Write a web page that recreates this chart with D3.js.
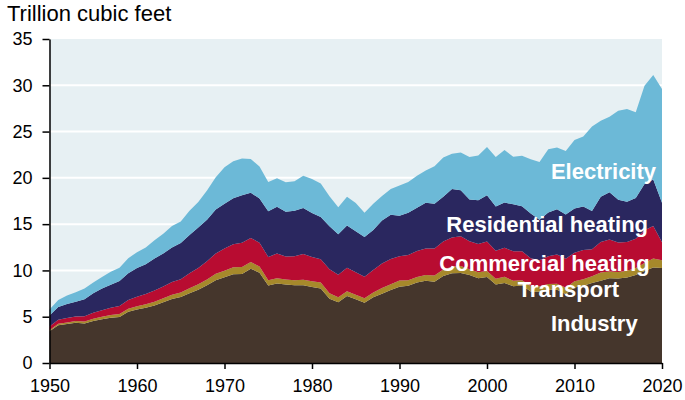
<!DOCTYPE html>
<html>
<head>
<meta charset="utf-8">
<script src="https://cdn.jsdelivr.net/npm/d3@7"></script>
<style>
  body { margin: 0; background: #ffffff; }
  svg { display: block; font-family: "Liberation Sans", Arial, sans-serif; }
  .axis path, .axis line { stroke: #000000; stroke-width: 1.5; }
  .axis text { fill: #000000; font-size: 18px; }
</style>
</head>
<body>
<div id="chart"></div>
<script>
// US natural gas consumption by end use, trillion cubic feet
var years = d3.range(1950, 2021);

var industry = [
  3.42, 4.08, 4.20, 4.35, 4.28, 4.54, 4.72, 4.90, 4.98, 5.54,
  5.78, 5.98, 6.21, 6.55, 6.91, 7.12, 7.53, 7.92, 8.40, 8.95,
  9.25, 9.59, 9.61, 10.18, 9.76, 8.37, 8.60, 8.48, 8.41, 8.39,
  8.20, 8.05, 6.93, 6.55, 7.23, 6.88, 6.50, 7.10, 7.48, 7.88,
  8.25, 8.35, 8.70, 8.88, 8.77, 9.39, 9.69, 9.72, 9.50, 9.16,
  9.30, 8.47, 8.64, 8.29, 8.37, 7.73, 7.70, 7.91, 7.92, 7.44,
  8.15, 8.35, 8.65, 8.88, 9.16, 9.14, 9.24, 9.51, 9.93, 10.31,
  10.25
];
var transport = [
  0.13, 0.15, 0.17, 0.18, 0.20, 0.25, 0.27, 0.29, 0.30, 0.32,
  0.35, 0.38, 0.41, 0.44, 0.47, 0.50, 0.55, 0.58, 0.63, 0.68,
  0.72, 0.74, 0.77, 0.73, 0.67, 0.58, 0.55, 0.53, 0.53, 0.60,
  0.64, 0.64, 0.60, 0.56, 0.53, 0.50, 0.49, 0.52, 0.61, 0.63,
  0.66, 0.60, 0.59, 0.62, 0.69, 0.70, 0.71, 0.75, 0.64, 0.65,
  0.64, 0.64, 0.67, 0.59, 0.57, 0.58, 0.58, 0.62, 0.65, 0.70,
  0.67, 0.69, 0.73, 0.89, 0.72, 0.68, 0.72, 0.75, 0.88, 0.98,
  0.85
];
var commercial = [
  0.39, 0.45, 0.48, 0.49, 0.56, 0.63, 0.72, 0.79, 0.87, 0.94,
  1.02, 1.09, 1.21, 1.27, 1.36, 1.44, 1.61, 1.76, 1.96, 2.21,
  2.40, 2.51, 2.61, 2.60, 2.56, 2.51, 2.67, 2.50, 2.60, 2.79,
  2.61, 2.52, 2.61, 2.43, 2.52, 2.43, 2.32, 2.43, 2.67, 2.72,
  2.62, 2.73, 2.80, 2.86, 2.90, 3.03, 3.16, 3.22, 3.00, 3.05,
  3.18, 3.02, 3.14, 3.18, 3.13, 3.00, 2.83, 3.01, 3.15, 3.12,
  3.10, 3.16, 2.90, 3.30, 3.47, 3.20, 3.11, 3.16, 3.52, 3.51,
  1.95
];
var residential = [
  1.20, 1.37, 1.53, 1.59, 1.84, 2.12, 2.34, 2.48, 2.71, 2.89,
  3.10, 3.21, 3.47, 3.57, 3.75, 3.90, 4.15, 4.38, 4.49, 4.73,
  4.84, 4.97, 5.13, 4.88, 4.79, 4.92, 5.05, 4.82, 4.90, 4.97,
  4.75, 4.55, 4.63, 4.38, 4.56, 4.43, 4.31, 4.32, 4.63, 4.78,
  4.39, 4.56, 4.69, 4.96, 4.85, 4.85, 5.24, 4.98, 4.52, 4.73,
  5.00, 4.77, 4.89, 5.08, 4.87, 4.83, 4.37, 4.72, 4.89, 4.78,
  4.78, 4.71, 4.15, 4.90, 5.09, 4.61, 4.35, 4.41, 5.00, 5.02,
  4.25
];
var electricity = [
  0.63, 0.76, 0.91, 1.03, 1.17, 1.15, 1.24, 1.39, 1.44, 1.63,
  1.72, 1.83, 1.97, 2.14, 2.32, 2.32, 2.61, 2.75, 3.15, 3.49,
  3.93, 3.98, 3.98, 3.66, 3.44, 3.16, 3.08, 3.19, 3.19, 3.49,
  3.68, 3.64, 3.23, 2.91, 3.11, 3.04, 2.60, 2.84, 2.64, 2.79,
  3.25, 3.32, 3.45, 3.47, 4.04, 4.24, 3.81, 4.07, 4.59, 4.82,
  5.21, 5.34, 5.67, 5.14, 5.46, 5.87, 6.22, 6.84, 6.67, 6.87,
  7.39, 7.57, 9.11, 8.19, 8.15, 9.61, 10.03, 9.27, 10.63, 11.28,
  12.30
];

var keys = ["Industry", "Transport", "Commercial heating", "Residential heating", "Electricity"];
var colors = ["#45362c", "#a6892b", "#b80c31", "#2a275f", "#6cb9d7"];
var yTicks = [0, 5, 10, 15, 20, 25, 30, 35];
var xTicks = [1950, 1960, 1970, 1980, 1990, 2000, 2010, 2020];

// label anchors in data units: [year, value]
var labels = [
  {text: "Electricity", year: 2007.3, value: 19.85},
  {text: "Residential heating", year: 1995.35, value: 14.2},
  {text: "Commercial heating", year: 1994.55, value: 9.98},
  {text: "Transport", year: 2003.5, value: 7.15},
  {text: "Industry", year: 2007.3, value: 3.45}
];

var table = years.map(function(y, i) {
  return {
    year: y,
    "Industry": industry[i],
    "Transport": transport[i],
    "Commercial heating": commercial[i],
    "Residential heating": residential[i],
    "Electricity": electricity[i]
  };
});

var width = 685, height = 400;
var margin = {top: 39, right: 23, bottom: 37, left: 49.5};

var svg = d3.select("#chart").append("svg")
  .attr("width", width)
  .attr("height", height);

var x = d3.scaleLinear()
  .domain([1950, 2020])
  .range([margin.left, width - margin.right]);
var y = d3.scaleLinear()
  .domain([0, 35])
  .range([height - margin.bottom, margin.top]);

var color = d3.scaleOrdinal().domain(keys).range(colors);

// plot background
svg.append("rect")
  .attr("x", x(1950))
  .attr("y", y(35))
  .attr("width", x(2020) - x(1950))
  .attr("height", y(0) - y(35))
  .style("fill", "#e7f0f3");

// gridlines
svg.append("g")
  .selectAll("line")
  .data(yTicks.filter(function(d) { return d > 0 && d < 35; }))
  .enter().append("line")
  .attr("x1", x(1950))
  .attr("x2", x(2020))
  .attr("y1", function(d) { return y(d); })
  .attr("y2", function(d) { return y(d); })
  .style("stroke", "#ffffff")
  .style("stroke-width", 2);

var series = d3.stack().keys(keys)(table);

var area = d3.area()
  .x(function(d) { return x(d.data.year); })
  .y0(function(d) { return y(d[0]); })
  .y1(function(d) { return y(d[1]); });

svg.append("g")
  .selectAll("path")
  .data(series)
  .enter().append("path")
  .attr("d", area)
  .style("fill", function(d) { return color(d.key); });

// axes
svg.append("g")
  .attr("class", "axis")
  .attr("transform", "translate(" + x(1950) + ",0)")
  .call(d3.axisLeft(y).tickValues(yTicks).tickSize(7).tickPadding(10).tickSizeOuter(0));

svg.append("g")
  .attr("class", "axis")
  .attr("transform", "translate(0," + y(0) + ")")
  .call(d3.axisBottom(x).tickValues(xTicks).tickFormat(d3.format("d")).tickSize(6).tickPadding(10).tickSizeOuter(0));

// series labels
svg.append("g")
  .selectAll("text")
  .data(labels)
  .enter().append("text")
  .attr("x", function(d) { return x(d.year); })
  .attr("y", function(d) { return y(d.value); })
  .style("fill", "#ffffff")
  .style("font-size", "22px")
  .style("font-weight", "bold")
  .text(function(d) { return d.text; });

// unit title
svg.append("text")
  .attr("x", 7)
  .attr("y", 21)
  .style("fill", "#000000")
  .style("font-size", "22px")
  .text("Trillion cubic feet");
</script>
</body>
</html>
